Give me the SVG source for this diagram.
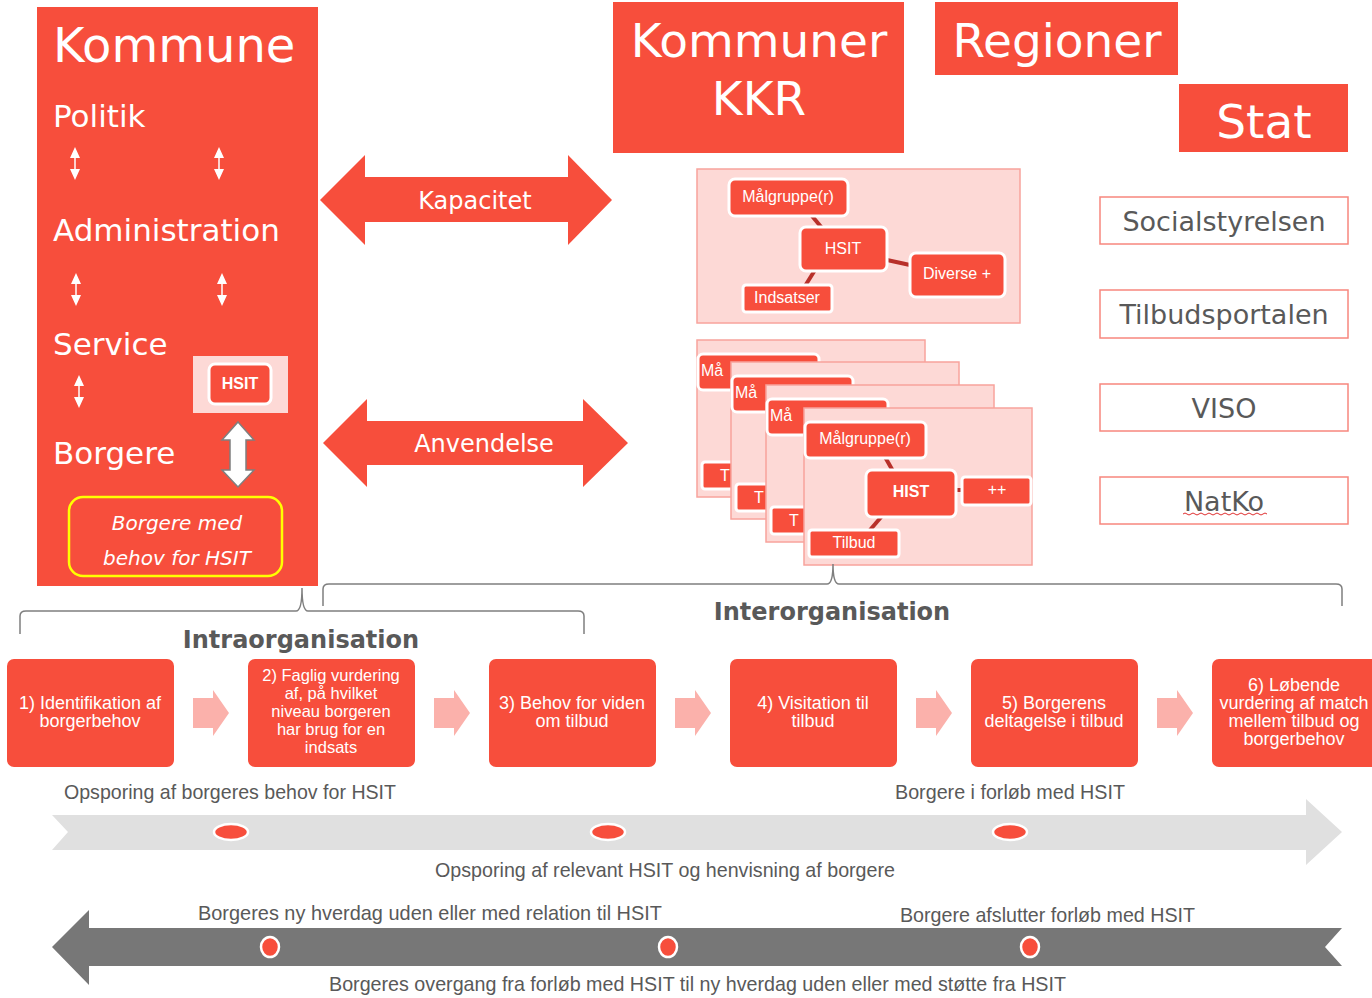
<svg xmlns="http://www.w3.org/2000/svg" width="1372" height="998" viewBox="0 0 1372 998">
<defs>
<style>
.red{fill:#F74E3C}
.hd{font-family:"DejaVu Sans","Verdana",sans-serif;fill:#fff}
.pt{font-family:"Liberation Sans Narrow","Liberation Sans",Arial,sans-serif;font-size:18px;fill:#fff;text-anchor:middle}
.pt2{font-family:"Liberation Sans Narrow","Liberation Sans",Arial,sans-serif;font-size:16.5px;fill:#fff;text-anchor:middle}
.gt{font-family:"Liberation Sans Narrow","Liberation Sans",Arial,sans-serif;font-size:21px;fill:#595959}
.card{fill:#FDD9D6;stroke:#F8A39C;stroke-width:1.5}
.nd{fill:#F74E3C;stroke:#fff;stroke-width:3}
.nt{font-family:"Liberation Sans Narrow","Liberation Sans",Arial,sans-serif;font-size:16px;fill:#fff;text-anchor:middle}
.nl{stroke:#B8302A;stroke-width:4}
.org{fill:#fff;stroke:#F7877E;stroke-width:1.5}
.ot{font-family:"DejaVu Sans","Verdana",sans-serif;font-size:27px;fill:#595959;text-anchor:middle}
.brace{fill:none;stroke:#7F7F7F;stroke-width:1.5}
.lbl{font-family:"DejaVu Sans","Verdana",sans-serif;font-weight:bold;font-size:24px;fill:#595959;text-anchor:middle}
.parr{fill:#FBB1AB}
.sm{fill:#fff}
</style>
</defs>
<rect width="1372" height="998" fill="#fff"/>

<g id="kommune">
<rect class="red" x="37" y="7" width="281" height="579"/>
<text class="hd" x="53" y="62" font-size="48">Kommune</text>
<text class="hd" x="53" y="127" font-size="31">Politik</text>
<text class="hd" x="53" y="241" font-size="31">Administration</text>
<text class="hd" x="53" y="355" font-size="31">Service</text>
<text class="hd" x="53" y="464" font-size="31">Borgere</text>
<g stroke="#fff" stroke-width="1.5">
<line x1="75" y1="155" x2="75" y2="172"/><line x1="219" y1="155" x2="219" y2="172"/>
<line x1="76" y1="281" x2="76" y2="298"/><line x1="222" y1="281" x2="222" y2="298"/>
<line x1="79" y1="383" x2="79" y2="400"/>
</g>
<g class="sm">
<path d="M75,147 L80,158 L70,158Z M75,180 L80,169 L70,169Z"/>
<path d="M219,147 L224,158 L214,158Z M219,180 L224,169 L214,169Z"/>
<path d="M76,273 L81,284 L71,284Z M76,306 L81,295 L71,295Z"/>
<path d="M222,273 L227,284 L217,284Z M222,306 L227,295 L217,295Z"/>
<path d="M79,375 L84,386 L74,386Z M79,408 L84,397 L74,397Z"/>
</g>
<rect x="193" y="356" width="95" height="57" fill="#FDD9D6"/>
<rect class="nd" x="209" y="364" width="62" height="40" rx="6"/>
<text class="nt" x="240" y="389" font-weight="bold">HSIT</text>
<path d="M238,422 L254,440 L246,440 L246,470 L254,470 L238,487 L222,470 L230,470 L230,440 L222,440Z" fill="#fff" stroke="#7F7F7F" stroke-width="1.5"/>
<rect x="69" y="497" width="213" height="79" rx="14" fill="none" stroke="#FFFF00" stroke-width="2.5"/>
<text class="hd" x="177" y="530" font-size="20" font-style="italic" text-anchor="middle">Borgere med</text>
<text class="hd" x="177" y="565" font-size="20" font-style="italic" text-anchor="middle">behov for HSIT</text>
</g>

<g id="kapacitet">
<path class="red" d="M320,200 L365,155 L365,177 L568,177 L568,155 L612,200 L568,245 L568,222 L365,222 L365,245Z"/>
<text class="hd" x="475" y="209" font-size="24" text-anchor="middle">Kapacitet</text>
</g>
<g id="anvendelse">
<path class="red" d="M323,443 L367,399 L367,421 L583,421 L583,399 L628,443 L583,487 L583,465 L367,465 L367,487Z"/>
<text class="hd" x="484" y="452" font-size="24" text-anchor="middle">Anvendelse</text>
</g>

<g id="kommuner-kkr">
<rect class="red" x="613" y="2" width="291" height="151"/>
<text class="hd" x="759" y="57" font-size="47" text-anchor="middle">Kommuner</text>
<text class="hd" x="759" y="115" font-size="47" text-anchor="middle">KKR</text>
</g>
<g id="regioner">
<rect class="red" x="935" y="2" width="243" height="73"/>
<text class="hd" x="1057" y="57" font-size="47" text-anchor="middle">Regioner</text>
</g>
<g id="stat">
<rect class="red" x="1179" y="84" width="169" height="68"/>
<text class="hd" x="1264" y="138" font-size="47" text-anchor="middle">Stat</text>
</g>

<g id="hsit-cluster">
<rect class="card" x="697" y="169" width="323" height="154"/>
<line class="nl" x1="812" y1="216" x2="822" y2="228"/>
<line class="nl" x1="887" y1="260" x2="910" y2="265"/>
<line class="nl" x1="815" y1="270" x2="805" y2="286"/>
<rect class="nd" x="729" y="179" width="119" height="37" rx="6"/>
<text class="nt" x="788" y="202">Målgruppe(r)</text>
<rect class="nd" x="800" y="227" width="87" height="44" rx="6"/>
<text class="nt" x="843" y="254">HSIT</text>
<rect class="nd" x="910" y="253" width="95" height="44" rx="6"/>
<text class="nt" x="957" y="279">Diverse +</text>
<rect class="nd" x="743" y="285" width="89" height="27" rx="3"/>
<text class="nt" x="787" y="303">Indsatser</text>
</g>

<g id="card1">
<rect class="card" x="697" y="340" width="228" height="157"/>
<rect class="nd" x="698" y="354" width="121" height="36" rx="5"/>
<text class="nt" x="712" y="376" text-anchor="start">Må</text>
<rect class="nd" x="702" y="462" width="90" height="27" rx="3"/>
<text class="nt" x="725" y="481" text-anchor="start">T</text>
</g>
<g id="card2">
<rect class="card" x="731" y="362" width="228" height="157"/>
<rect class="nd" x="732" y="376" width="121" height="36" rx="5"/>
<text class="nt" x="746" y="398" text-anchor="start">Må</text>
<rect class="nd" x="736" y="484" width="90" height="27" rx="3"/>
<text class="nt" x="759" y="503" text-anchor="start">T</text>
</g>
<g id="card3">
<rect class="card" x="766" y="385" width="228" height="157"/>
<rect class="nd" x="767" y="399" width="121" height="36" rx="5"/>
<text class="nt" x="781" y="421" text-anchor="start">Må</text>
<rect class="nd" x="771" y="507" width="90" height="27" rx="3"/>
<text class="nt" x="794" y="526" text-anchor="start">T</text>
</g>
<g id="card4">
<rect class="card" x="804" y="408" width="228" height="157"/>
<line class="nl" x1="885" y1="457" x2="893" y2="471"/>
<line class="nl" x1="882" y1="516" x2="870" y2="530"/>
<line class="nl" x1="956" y1="490" x2="964" y2="490"/>
<rect class="nd" x="805" y="422" width="121" height="36" rx="5"/>
<text class="nt" x="865" y="444">Målgruppe(r)</text>
<rect class="nd" x="866" y="470" width="90" height="47" rx="6"/>
<text class="nt" x="911" y="497" font-weight="bold">HIST</text>
<rect class="nd" x="962" y="477" width="69" height="28" rx="3"/>
<text class="nt" x="997" y="495">++</text>
<rect class="nd" x="809" y="530" width="90" height="27" rx="3"/>
<text class="nt" x="854" y="548">Tilbud</text>
</g>

<g id="socialstyrelsen"><rect class="org" x="1100" y="197" width="248" height="47"/><text class="ot" x="1224" y="231">Socialstyrelsen</text></g>
<g id="tilbudsportalen"><rect class="org" x="1100" y="290" width="248" height="48"/><text class="ot" x="1224" y="324">Tilbudsportalen</text></g>
<g id="viso"><rect class="org" x="1100" y="384" width="248" height="47"/><text class="ot" x="1224" y="418">VISO</text></g>
<g id="natko"><rect class="org" x="1100" y="477" width="248" height="47"/><text class="ot" x="1224" y="511">NatKo</text>
<path d="M1183,514 q2,-2 4,0 t4,0 t4,0 t4,0 t4,0 t4,0 t4,0 t4,0 t4,0 t4,0 t4,0 t4,0 t4,0 t4,0 t4,0 t4,0 t4,0 t4,0 t4,0 t4,0 t4,0" fill="none" stroke="#E03030" stroke-width="1"/>
</g>

<g id="connectors">
<path class="brace" d="M20,634 V616 Q20,611 26,611 H296 Q302,611 302,588 Q302,611 308,611 H578 Q584,611 584,616 V634"/>
<path class="brace" d="M323,606 V589 Q323,584 329,584 H827 Q833,584 833,564 Q833,584 839,584 H1336 Q1342,584 1342,589 V606"/>
<path class="parr" d="M193,698 H213 V690 L229,713 L213,736 V728 H193Z"/>
<path class="parr" d="M434,698 H454 V690 L470,713 L454,736 V728 H434Z"/>
<path class="parr" d="M675,698 H695 V690 L711,713 L695,736 V728 H675Z"/>
<path class="parr" d="M916,698 H936 V690 L952,713 L936,736 V728 H916Z"/>
<path class="parr" d="M1157,698 H1177 V690 L1193,713 L1177,736 V728 H1157Z"/>
</g>

<text class="lbl" x="301" y="648">Intraorganisation</text>
<text class="lbl" x="832" y="620">Interorganisation</text>

<g id="step1"><rect class="red" x="7" y="659" width="167" height="108" rx="7"/>
<text class="pt" x="90" y="709">1) Identifikation af</text><text class="pt" x="90" y="727">borgerbehov</text></g>
<g id="step2"><rect class="red" x="248" y="659" width="167" height="108" rx="7"/>
<text class="pt2" x="331" y="681">2) Faglig vurdering</text><text class="pt2" x="331" y="699">af, på hvilket</text><text class="pt2" x="331" y="717">niveau borgeren</text><text class="pt2" x="331" y="735">har brug for en</text><text class="pt2" x="331" y="753">indsats</text></g>
<g id="step3"><rect class="red" x="489" y="659" width="167" height="108" rx="7"/>
<text class="pt" x="572" y="709">3) Behov for viden</text><text class="pt" x="572" y="727">om tilbud</text></g>
<g id="step4"><rect class="red" x="730" y="659" width="167" height="108" rx="7"/>
<text class="pt" x="813" y="709">4) Visitation til</text><text class="pt" x="813" y="727">tilbud</text></g>
<g id="step5"><rect class="red" x="971" y="659" width="167" height="108" rx="7"/>
<text class="pt" x="1054" y="709">5) Borgerens</text><text class="pt" x="1054" y="727">deltagelse i tilbud</text></g>
<g id="step6"><rect class="red" x="1212" y="659" width="167" height="108" rx="7"/>
<text class="pt" x="1294" y="691">6) Løbende</text><text class="pt" x="1294" y="709">vurdering af match</text><text class="pt" x="1294" y="727">mellem tilbud og</text><text class="pt" x="1294" y="745">borgerbehov</text></g>

<g id="forward-timeline">
<path d="M52,815 H1306 V799 L1342,832 L1306,865 V850 H52 L68,832Z" fill="#E0E0E0"/>
<g fill="#F74E3C" stroke="#fff" stroke-width="2.5">
<ellipse cx="231" cy="832" rx="17" ry="8"/><ellipse cx="608" cy="832" rx="17" ry="8"/><ellipse cx="1010" cy="832" rx="17" ry="8"/>
</g>
<text class="gt" x="64" y="799" textLength="332" lengthAdjust="spacingAndGlyphs">Opsporing af borgeres behov for HSIT</text>
<text class="gt" x="895" y="799" textLength="230" lengthAdjust="spacingAndGlyphs">Borgere i forløb med HSIT</text>
<text class="gt" x="435" y="877" textLength="460" lengthAdjust="spacingAndGlyphs">Opsporing af relevant HSIT og henvisning af borgere</text>
</g>

<g id="return-timeline">
<path d="M52,947 L89,910 V928 H1342 L1325,947 L1342,966 H89 V985Z" fill="#777777"/>
<g fill="#F74E3C" stroke="#fff" stroke-width="2.5">
<ellipse cx="270" cy="947" rx="9" ry="10"/><ellipse cx="668" cy="947" rx="9" ry="10"/><ellipse cx="1030" cy="947" rx="9" ry="10"/>
</g>
<text class="gt" x="198" y="920" textLength="464" lengthAdjust="spacingAndGlyphs">Borgeres ny hverdag uden eller med relation til  HSIT</text>
<text class="gt" x="900" y="922" textLength="295" lengthAdjust="spacingAndGlyphs">Borgere afslutter forløb med HSIT</text>
<text class="gt" x="329" y="991" textLength="737" lengthAdjust="spacingAndGlyphs">Borgeres overgang fra forløb med HSIT til ny hverdag uden eller med støtte fra HSIT</text>
</g>
</svg>
